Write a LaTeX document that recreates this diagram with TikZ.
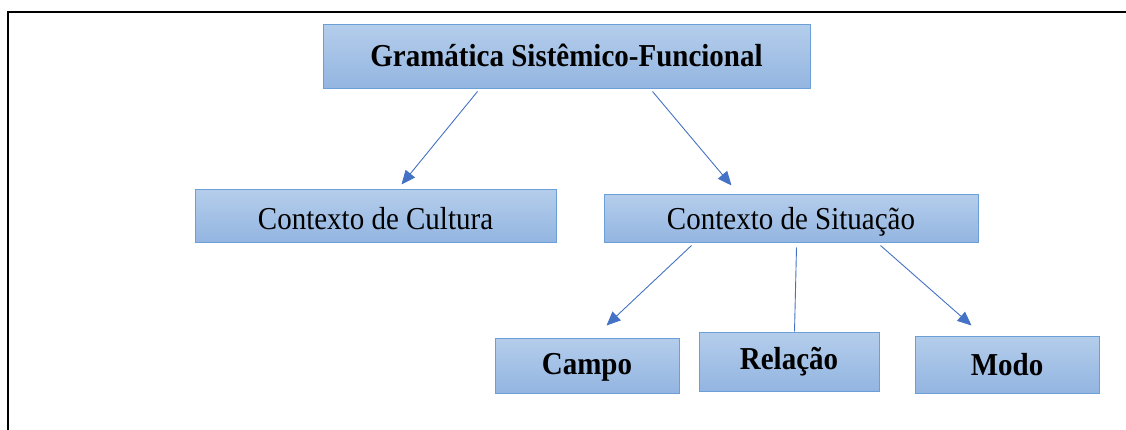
\documentclass[tikz,border=0pt]{standalone}
\usepackage{fontspec}
\setmainfont{Liberation Serif}
\usetikzlibrary{arrows.meta,calc}
\definecolor{boxtop}{HTML}{B4CDEB}
\definecolor{boxbot}{HTML}{93B5E1}
\definecolor{boxline}{HTML}{6B9FD8}
\definecolor{arrowc}{HTML}{4472C4}
\newcommand{\shiftt}[2]{\raisebox{#1}[\height][\depth]{\scalebox{1}[1.1]{#2}}}
\begin{document}
\begin{tikzpicture}[x=1pt,y=-1pt,
  box/.style={draw=boxline, line width=1pt, top color=boxtop, bottom color=boxbot, inner sep=0pt, anchor=center},
  conn/.style={draw=arrowc, line width=0.9pt},
  arr/.style={conn, -{Triangle[length=14pt,width=12pt]}},
  lbl/.style={font=\fontsize{29}{32}\selectfont}
]
\useasboundingbox (0,0) rectangle (1126,430);
\draw[line width=1.6pt] (8,430) -- (8,12) -- (1126,12);

\node[box, minimum width=487pt, minimum height=64pt, lbl] (top) at (566.5,57) {\shiftt{2pt}{\textbf{Gramática Sistêmico-Funcional}}};
\node[box, minimum width=361pt, minimum height=53pt, lbl] (cult) at (375.5,216.5) {\shiftt{-2pt}{Contexto de Cultura}};
\node[box, minimum width=374pt, minimum height=48pt, lbl] (sit) at (791,219) {\shiftt{-3pt}{Contexto de Situação}};
\node[box, minimum width=184pt, minimum height=55pt, lbl] (campo) at (587,365.5) {\shiftt{-2pt}{\textbf{Campo}}};
\node[box, minimum width=180pt, minimum height=59pt, lbl] (rel) at (789,361.5) {\shiftt{0pt}{\textbf{Relação}}};
\node[box, minimum width=184pt, minimum height=57pt, lbl] (modo) at (1007,364.5) {\shiftt{0pt}{\textbf{Modo}}};

\draw[arr] ($(top.south west)+(155,2)$) -- ($(cult.north west)+(207,-5)$);
\draw[arr] ($(top.south west)+(330,2)$) -- ($(sit.north west)+(128,-9)$);
\draw[arr] ($(sit.south west)+(88,2)$) -- ($(campo.north west)+(112,-12)$);
\draw[conn] ($(sit.south west)+(193,4)$) -- ($(rel.north west)+(96,0)$);
\draw[arr] ($(sit.south west)+(277,2)$) -- ($(modo.north west)+(57,-10)$);
\end{tikzpicture}
\end{document}
